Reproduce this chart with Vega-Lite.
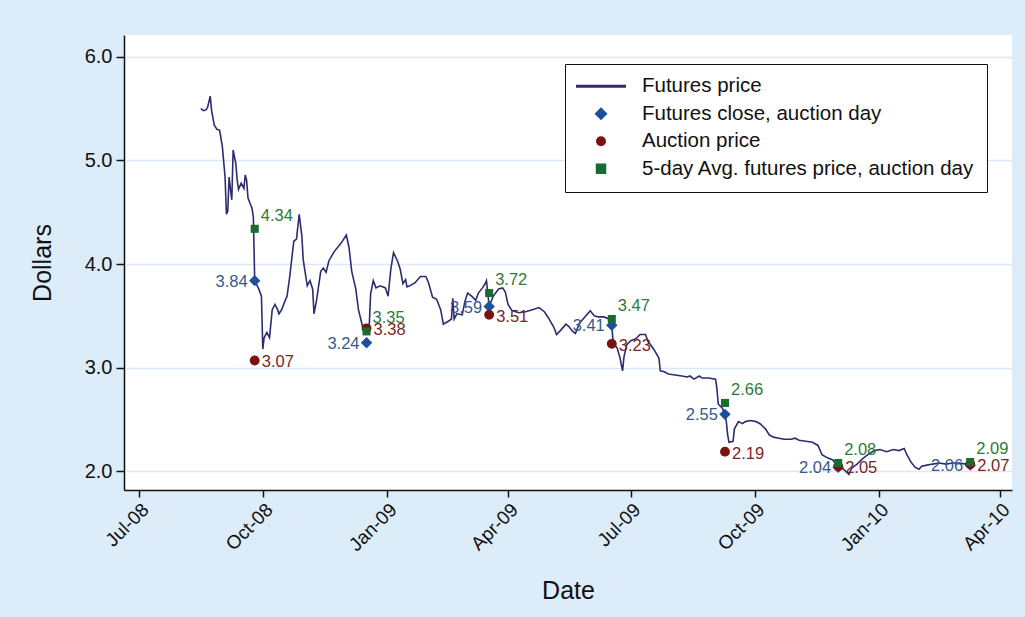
{
  "$schema": "https://vega.github.io/schema/vega-lite/v6.json",
  "width": 888,
  "height": 455,
  "autosize": {"type": "none"},
  "padding": {"left": 124, "top": 35, "right": 13, "bottom": 127},
  "background": "#dcecf9",
  "config": {
    "view": {"stroke": null, "fill": "white"},
    "font": "Liberation Sans"
  },
  "datasets": {
    "futures": [
      {"date": "2008-08-16", "price": 5.50}, {"date": "2008-08-18", "price": 5.48}, {"date": "2008-08-20", "price": 5.49},
      {"date": "2008-08-21", "price": 5.51}, {"date": "2008-08-23", "price": 5.62}, {"date": "2008-08-24", "price": 5.48},
      {"date": "2008-08-26", "price": 5.34}, {"date": "2008-08-28", "price": 5.30}, {"date": "2008-08-30", "price": 5.29},
      {"date": "2008-09-01", "price": 5.13}, {"date": "2008-09-03", "price": 4.84}, {"date": "2008-09-04", "price": 4.48},
      {"date": "2008-09-05", "price": 4.51}, {"date": "2008-09-06", "price": 4.84}, {"date": "2008-09-07", "price": 4.72},
      {"date": "2008-09-08", "price": 4.62}, {"date": "2008-09-09", "price": 5.10}, {"date": "2008-09-11", "price": 4.97},
      {"date": "2008-09-12", "price": 4.81}, {"date": "2008-09-13", "price": 4.72}, {"date": "2008-09-15", "price": 4.78},
      {"date": "2008-09-17", "price": 4.73}, {"date": "2008-09-18", "price": 4.86}, {"date": "2008-09-19", "price": 4.81},
      {"date": "2008-09-20", "price": 4.64}, {"date": "2008-09-22", "price": 4.57}, {"date": "2008-09-23", "price": 4.54},
      {"date": "2008-09-24", "price": 4.45}, {"date": "2008-09-25", "price": 3.84}, {"date": "2008-09-28", "price": 3.76},
      {"date": "2008-09-30", "price": 3.69}, {"date": "2008-10-01", "price": 3.18}, {"date": "2008-10-02", "price": 3.29},
      {"date": "2008-10-04", "price": 3.34}, {"date": "2008-10-06", "price": 3.29}, {"date": "2008-10-08", "price": 3.56},
      {"date": "2008-10-10", "price": 3.61}, {"date": "2008-10-12", "price": 3.56}, {"date": "2008-10-13", "price": 3.52},
      {"date": "2008-10-15", "price": 3.56}, {"date": "2008-10-18", "price": 3.66}, {"date": "2008-10-19", "price": 3.69},
      {"date": "2008-10-21", "price": 3.88}, {"date": "2008-10-24", "price": 4.22}, {"date": "2008-10-26", "price": 4.24},
      {"date": "2008-10-28", "price": 4.48}, {"date": "2008-10-30", "price": 4.27}, {"date": "2008-10-31", "price": 4.04},
      {"date": "2008-11-03", "price": 3.79}, {"date": "2008-11-05", "price": 3.84}, {"date": "2008-11-07", "price": 3.76},
      {"date": "2008-11-08", "price": 3.52}, {"date": "2008-11-10", "price": 3.66}, {"date": "2008-11-13", "price": 3.93},
      {"date": "2008-11-15", "price": 3.96}, {"date": "2008-11-17", "price": 3.92}, {"date": "2008-11-19", "price": 4.03},
      {"date": "2008-11-23", "price": 4.12}, {"date": "2008-11-28", "price": 4.20}, {"date": "2008-12-02", "price": 4.28},
      {"date": "2008-12-04", "price": 4.16}, {"date": "2008-12-06", "price": 3.93}, {"date": "2008-12-09", "price": 3.76},
      {"date": "2008-12-11", "price": 3.56}, {"date": "2008-12-14", "price": 3.40}, {"date": "2008-12-17", "price": 3.39},
      {"date": "2008-12-19", "price": 3.40}, {"date": "2008-12-20", "price": 3.71}, {"date": "2008-12-22", "price": 3.84},
      {"date": "2008-12-24", "price": 3.77}, {"date": "2008-12-27", "price": 3.79}, {"date": "2008-12-31", "price": 3.77},
      {"date": "2009-01-02", "price": 3.69}, {"date": "2009-01-04", "price": 3.95}, {"date": "2009-01-06", "price": 4.11},
      {"date": "2009-01-09", "price": 4.03}, {"date": "2009-01-11", "price": 3.95}, {"date": "2009-01-13", "price": 3.81},
      {"date": "2009-01-15", "price": 3.85}, {"date": "2009-01-16", "price": 3.78}, {"date": "2009-01-18", "price": 3.79},
      {"date": "2009-01-22", "price": 3.82}, {"date": "2009-01-26", "price": 3.88}, {"date": "2009-01-30", "price": 3.88},
      {"date": "2009-02-01", "price": 3.82}, {"date": "2009-02-04", "price": 3.68}, {"date": "2009-02-07", "price": 3.66},
      {"date": "2009-02-10", "price": 3.56}, {"date": "2009-02-12", "price": 3.42}, {"date": "2009-02-16", "price": 3.45},
      {"date": "2009-02-18", "price": 3.47}, {"date": "2009-02-19", "price": 3.67}, {"date": "2009-02-20", "price": 3.47},
      {"date": "2009-02-22", "price": 3.52}, {"date": "2009-02-26", "price": 3.51}, {"date": "2009-02-28", "price": 3.64},
      {"date": "2009-03-02", "price": 3.72}, {"date": "2009-03-05", "price": 3.69}, {"date": "2009-03-08", "price": 3.65},
      {"date": "2009-03-10", "price": 3.72}, {"date": "2009-03-13", "price": 3.77}, {"date": "2009-03-15", "price": 3.81},
      {"date": "2009-03-16", "price": 3.84}, {"date": "2009-03-18", "price": 3.59}, {"date": "2009-03-21", "price": 3.69},
      {"date": "2009-03-25", "price": 3.76}, {"date": "2009-03-28", "price": 3.77}, {"date": "2009-03-30", "price": 3.73},
      {"date": "2009-04-01", "price": 3.61}, {"date": "2009-04-04", "price": 3.55}, {"date": "2009-04-09", "price": 3.53},
      {"date": "2009-04-14", "price": 3.54}, {"date": "2009-04-19", "price": 3.56}, {"date": "2009-04-24", "price": 3.58},
      {"date": "2009-04-28", "price": 3.54}, {"date": "2009-05-01", "price": 3.48}, {"date": "2009-05-05", "price": 3.39},
      {"date": "2009-05-07", "price": 3.32}, {"date": "2009-05-10", "price": 3.36}, {"date": "2009-05-14", "price": 3.42},
      {"date": "2009-05-16", "price": 3.40}, {"date": "2009-05-19", "price": 3.35}, {"date": "2009-05-21", "price": 3.33},
      {"date": "2009-05-24", "price": 3.43}, {"date": "2009-05-28", "price": 3.49}, {"date": "2009-06-01", "price": 3.55},
      {"date": "2009-06-04", "price": 3.50}, {"date": "2009-06-07", "price": 3.49}, {"date": "2009-06-11", "price": 3.49},
      {"date": "2009-06-15", "price": 3.47}, {"date": "2009-06-17", "price": 3.41}, {"date": "2009-06-18", "price": 3.24},
      {"date": "2009-06-21", "price": 3.19}, {"date": "2009-06-23", "price": 3.10}, {"date": "2009-06-25", "price": 2.97},
      {"date": "2009-06-26", "price": 3.10}, {"date": "2009-06-28", "price": 3.22}, {"date": "2009-07-01", "price": 3.26},
      {"date": "2009-07-05", "price": 3.28}, {"date": "2009-07-08", "price": 3.32}, {"date": "2009-07-12", "price": 3.32},
      {"date": "2009-07-14", "price": 3.25}, {"date": "2009-07-17", "price": 3.20}, {"date": "2009-07-19", "price": 3.16},
      {"date": "2009-07-22", "price": 3.09}, {"date": "2009-07-23", "price": 2.97}, {"date": "2009-07-26", "price": 2.96},
      {"date": "2009-07-29", "price": 2.94}, {"date": "2009-08-03", "price": 2.93}, {"date": "2009-08-08", "price": 2.92},
      {"date": "2009-08-12", "price": 2.91}, {"date": "2009-08-14", "price": 2.92}, {"date": "2009-08-17", "price": 2.89},
      {"date": "2009-08-21", "price": 2.92}, {"date": "2009-08-23", "price": 2.90}, {"date": "2009-08-28", "price": 2.90},
      {"date": "2009-09-02", "price": 2.89}, {"date": "2009-09-03", "price": 2.80}, {"date": "2009-09-04", "price": 2.65},
      {"date": "2009-09-07", "price": 2.61}, {"date": "2009-09-09", "price": 2.55}, {"date": "2009-09-10", "price": 2.48},
      {"date": "2009-09-11", "price": 2.35}, {"date": "2009-09-12", "price": 2.28}, {"date": "2009-09-15", "price": 2.29},
      {"date": "2009-09-16", "price": 2.41}, {"date": "2009-09-19", "price": 2.48}, {"date": "2009-09-22", "price": 2.46},
      {"date": "2009-09-24", "price": 2.48}, {"date": "2009-09-28", "price": 2.49}, {"date": "2009-10-02", "price": 2.48},
      {"date": "2009-10-05", "price": 2.46}, {"date": "2009-10-09", "price": 2.41}, {"date": "2009-10-12", "price": 2.35},
      {"date": "2009-10-15", "price": 2.33}, {"date": "2009-10-19", "price": 2.32}, {"date": "2009-10-23", "price": 2.31},
      {"date": "2009-10-28", "price": 2.31}, {"date": "2009-10-31", "price": 2.32}, {"date": "2009-11-03", "price": 2.30},
      {"date": "2009-11-08", "price": 2.29}, {"date": "2009-11-13", "price": 2.28}, {"date": "2009-11-17", "price": 2.25},
      {"date": "2009-11-20", "price": 2.16}, {"date": "2009-11-24", "price": 2.13}, {"date": "2009-11-28", "price": 2.11},
      {"date": "2009-12-02", "price": 2.04}, {"date": "2009-12-06", "price": 2.02}, {"date": "2009-12-10", "price": 1.97},
      {"date": "2009-12-12", "price": 2.03}, {"date": "2009-12-16", "price": 2.07}, {"date": "2009-12-20", "price": 2.12},
      {"date": "2009-12-25", "price": 2.17}, {"date": "2009-12-29", "price": 2.20}, {"date": "2010-01-02", "price": 2.21},
      {"date": "2010-01-07", "price": 2.19}, {"date": "2010-01-12", "price": 2.21}, {"date": "2010-01-16", "price": 2.20},
      {"date": "2010-01-20", "price": 2.22}, {"date": "2010-01-22", "price": 2.16}, {"date": "2010-01-25", "price": 2.09},
      {"date": "2010-01-28", "price": 2.04}, {"date": "2010-01-31", "price": 2.02}, {"date": "2010-02-02", "price": 2.05},
      {"date": "2010-02-06", "price": 2.06}, {"date": "2010-02-10", "price": 2.07}, {"date": "2010-02-15", "price": 2.08},
      {"date": "2010-02-20", "price": 2.07}, {"date": "2010-02-25", "price": 2.08}, {"date": "2010-03-02", "price": 2.08},
      {"date": "2010-03-07", "price": 2.07}, {"date": "2010-03-10", "price": 2.06}
    ],
    "auctions": [
      {"date": "2008-09-25", "series": "Futures close, auction day", "value": 3.84},
      {"date": "2008-12-17", "series": "Futures close, auction day", "value": 3.24},
      {"date": "2009-03-18", "series": "Futures close, auction day", "value": 3.59},
      {"date": "2009-06-17", "series": "Futures close, auction day", "value": 3.41},
      {"date": "2009-09-09", "series": "Futures close, auction day", "value": 2.55},
      {"date": "2009-12-02", "series": "Futures close, auction day", "value": 2.04},
      {"date": "2010-03-10", "series": "Futures close, auction day", "value": 2.06},
      {"date": "2008-09-25", "series": "Auction price", "value": 3.07},
      {"date": "2008-12-17", "series": "Auction price", "value": 3.38},
      {"date": "2009-03-18", "series": "Auction price", "value": 3.51},
      {"date": "2009-06-17", "series": "Auction price", "value": 3.23},
      {"date": "2009-09-09", "series": "Auction price", "value": 2.19},
      {"date": "2009-12-02", "series": "Auction price", "value": 2.05},
      {"date": "2010-03-10", "series": "Auction price", "value": 2.07},
      {"date": "2008-09-25", "series": "5-day Avg. futures price, auction day", "value": 4.34},
      {"date": "2008-12-17", "series": "5-day Avg. futures price, auction day", "value": 3.35},
      {"date": "2009-03-18", "series": "5-day Avg. futures price, auction day", "value": 3.72},
      {"date": "2009-06-17", "series": "5-day Avg. futures price, auction day", "value": 3.47},
      {"date": "2009-09-09", "series": "5-day Avg. futures price, auction day", "value": 2.66},
      {"date": "2009-12-02", "series": "5-day Avg. futures price, auction day", "value": 2.08},
      {"date": "2010-03-10", "series": "5-day Avg. futures price, auction day", "value": 2.09}
    ]
  },
  "encoding": {
    "x": {
      "field": "date", "type": "temporal",
      "scale": {"type": "utc", "domain": [{"year": 2008, "month": 6, "date": 20, "utc": true}, {"year": 2010, "month": 4, "date": 10, "utc": true}]},
      "axis": {
        "title": "Date", "titleFontSize": 25, "titleFontWeight": "normal", "titleColor": "#111", "titlePadding": 24,
        "values": [
          {"year": 2008, "month": 7, "date": 1, "utc": true}, {"year": 2008, "month": 10, "date": 1, "utc": true},
          {"year": 2009, "month": 1, "date": 1, "utc": true}, {"year": 2009, "month": 4, "date": 1, "utc": true},
          {"year": 2009, "month": 7, "date": 1, "utc": true}, {"year": 2009, "month": 10, "date": 1, "utc": true},
          {"year": 2010, "month": 1, "date": 1, "utc": true}, {"year": 2010, "month": 4, "date": 1, "utc": true}
        ],
        "labelExpr": "utcFormat(datum.value, '%b-%y')",
        "labelAngle": -45, "labelFontSize": 19, "labelColor": "#111", "labelPadding": 3,
        "grid": false, "domainColor": "#111", "domainWidth": 1.5, "tickColor": "#111", "tickWidth": 1.5, "tickSize": 7
      }
    }
  },
  "layer": [
    {
      "data": {"name": "futures"},
      "mark": {"type": "line", "strokeWidth": 1.6, "clip": true},
      "encoding": {
        "y": {
          "field": "price", "type": "quantitative",
          "scale": {"domain": [1.82, 6.21], "nice": false, "zero": false},
          "axis": {
            "title": "Dollars", "titleFontSize": 25, "titleFontWeight": "normal", "titleColor": "#111", "titlePadding": 29,
            "values": [2, 3, 4, 5, 6], "format": ".1f",
            "labelFontSize": 20, "labelColor": "#111", "labelPadding": 4,
            "grid": true, "gridColor": "#d9e9f7", "gridWidth": 1.5,
            "domainColor": "#111", "domainWidth": 1.5, "tickColor": "#111", "tickWidth": 1.5, "tickSize": 8
          }
        },
        "color": {
          "datum": "Futures price", "type": "nominal",
          "scale": {
            "domain": ["Futures price", "Futures close, auction day", "Auction price", "5-day Avg. futures price, auction day"],
            "range": ["#2e2c70", "#1d509c", "#7a1212", "#1a6b2e"]
          },
          "legend": {
            "title": null, "orient": "none", "legendX": 441, "legendY": 29,
            "strokeColor": "#111", "fillColor": "white", "padding": 12,
            "labelFontSize": 20.5, "labelColor": "#111", "labelLimit": 500,
            "symbolSize": 130, "rowPadding": 6.5,
            "encode": {
              "symbols": {
                "update": {
                  "x": {"value": 24},
                  "shape": {"signal": "datum.value === 'Futures price' ? 'stroke' : datum.value === 'Auction price' ? 'circle' : datum.value === 'Futures close, auction day' ? 'diamond' : 'square'"},
                  "size": {"signal": "datum.value === 'Futures price' ? 2500 : datum.value === 'Futures close, auction day' ? 170 : datum.value === 'Auction price' ? 100 : 110"},
                  "fill": {"scale": "color", "field": "value"},
                  "stroke": {"scale": "color", "field": "value"},
                  "strokeWidth": {"signal": "datum.value === 'Futures price' ? 3 : 0"},
                  "opacity": {"value": 1}
                }
              },
              "labels": {"update": {"x": {"value": 65}}}
            }
          }
        }
      }
    },
    {
      "data": {"name": "auctions"},
      "mark": {"type": "point", "filled": true, "opacity": 1},
      "encoding": {
        "y": {"field": "value", "type": "quantitative"},
        "color": {"field": "series", "type": "nominal", "legend": {"title": null}},
        "shape": {
          "field": "series", "type": "nominal", "legend": null,
          "scale": {"domain": ["Futures close, auction day", "Auction price", "5-day Avg. futures price, auction day"], "range": ["diamond", "circle", "square"]}
        },
        "size": {
          "field": "series", "type": "nominal", "legend": null,
          "scale": {"domain": ["Futures close, auction day", "Auction price", "5-day Avg. futures price, auction day"], "range": [130, 65, 78]}
        }
      }
    },
    {
      "data": {"name": "auctions"},
      "transform": [{"filter": "datum.series === 'Futures close, auction day'"}],
      "mark": {"type": "text", "align": "right", "baseline": "middle", "dx": -7, "dy": 1, "fontSize": 16.5, "color": "#36598c"},
      "encoding": {
        "y": {"field": "value", "type": "quantitative"},
        "text": {"field": "value", "type": "quantitative", "format": ".2f"}
      }
    },
    {
      "data": {"name": "auctions"},
      "transform": [{"filter": "datum.series === 'Auction price'"}],
      "mark": {"type": "text", "align": "left", "baseline": "middle", "dx": 7, "dy": 2, "fontSize": 16.5, "color": "#7a2626"},
      "encoding": {
        "y": {"field": "value", "type": "quantitative"},
        "text": {"field": "value", "type": "quantitative", "format": ".2f"}
      }
    },
    {
      "data": {"name": "auctions"},
      "transform": [{"filter": "datum.series === '5-day Avg. futures price, auction day'"}],
      "mark": {"type": "text", "align": "left", "baseline": "middle", "dx": 6, "dy": -13, "fontSize": 16.5, "color": "#2f7a36"},
      "encoding": {
        "y": {"field": "value", "type": "quantitative"},
        "text": {"field": "value", "type": "quantitative", "format": ".2f"}
      }
    }
  ]
}
